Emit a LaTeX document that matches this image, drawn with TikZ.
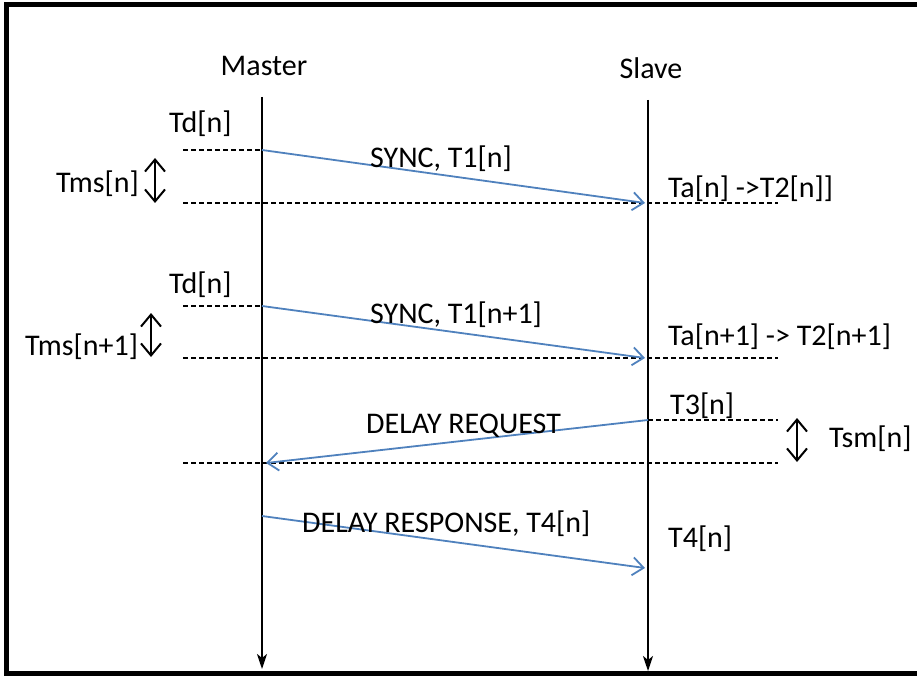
\documentclass[tikz,border=0pt]{standalone}
\usepackage{fontspec}
\setmainfont{Carlito}
\usetikzlibrary{arrows.meta}
\definecolor{msgblue}{RGB}{79,129,189}

\begin{document}
\begin{tikzpicture}[x=1pt, y=-1pt,
    lbl/.style={font=\fontsize{30}{35}\selectfont, inner sep=0pt, anchor=base west},
    life/.style={line width=2pt, -{Stealth[length=15pt,width=10pt,inset=4pt]}},
    msg/.style={line width=1.8pt, msgblue, -{Straight Barb[length=11pt,width=18pt,line width=1.8pt]}},
    tick/.style={line width=1.8pt, dash pattern=on 5pt off 3pt},
    gap/.style={line width=2pt,
                {Straight Barb[length=12pt,width=20pt,line width=2pt]}-{Straight Barb[length=12pt,width=20pt,line width=2pt]}}
]
    \useasboundingbox (0,0) rectangle (917,676);
    \clip (0,0) rectangle (917,676);
    \draw[line width=5pt] (6,4.5) rectangle (930,673.5);

    % lifelines
    \node[lbl, anchor=base] (master) at (264,76) {Master};
    \node[lbl, anchor=base] (slave)  at (651,79) {Slave};
    \coordinate (mtop) at (262,97);
    \coordinate (mbot) at (262,669);
    \coordinate (stop) at (648,100);
    \coordinate (sbot) at (648,671);
    \draw[life] (mtop) -- (mbot);
    \draw[life] (stop) -- (sbot);

    % time marks
    \coordinate (d1a) at (183,150);  \coordinate (m1) at (262,150);
    \coordinate (d2a) at (183,203);  \coordinate (s1) at (645,203);
    \coordinate (d2b) at (778,203);
    \coordinate (d3a) at (183,306);  \coordinate (m2) at (262,306);
    \coordinate (d4a) at (183,358);  \coordinate (s2) at (645,358);
    \coordinate (d4b) at (778,358);
    \coordinate (s3) at (648,420);   \coordinate (d5b) at (778,420);
    \coordinate (d6a) at (183,463);  \coordinate (m3) at (266,463);
    \coordinate (d6b) at (778,463);
    \coordinate (m4) at (262,516);   \coordinate (s4) at (645,568);

    \draw[tick] (d1a) -- (m1);
    \draw[tick] (d2a) -- (d2b);
    \draw[tick] (d3a) -- (m2);
    \draw[tick] (d4a) -- (d4b);
    \draw[tick] (s3) -- (d5b);
    \draw[tick] (d6a) -- (d6b);

    % messages
    \draw[msg] (m1) -- (s1);
    \draw[msg] (m2) -- (s2);
    \draw[msg] (s3) -- (m3);
    \draw[msg] (m4) -- (s4);

    \node[lbl] (sync1) at (370,168) {SYNC, T1[n]};
    \node[lbl] (sync2) at (370,323) {SYNC, T1[n+1]};
    \node[lbl] (dreq)  at (366,433) {DELAY REQUEST};
    \node[lbl] (dresp) at (302,532) {DELAY RESPONSE, T4[n]};

    % time labels
    \node[lbl] (td1)  at (169,133) {Td[n]};
    \node[lbl] (td2)  at (169,293) {Td[n]};
    \node[lbl] (tms1) at (56,193)  {Tms[n]};
    \node[lbl] (tms2) at (25,355)  {Tms[n+1]};
    \node[lbl] (ta1)  at (668,198) {Ta[n] ->T2[n]]};
    \node[lbl] (ta2)  at (668,345) {Ta[n+1] -> T2[n+1]};
    \node[lbl] (t3)   at (670,414) {T3[n]};
    \node[lbl] (tsm)  at (829,447) {Tsm[n]};
    \node[lbl] (t4)   at (668,547) {T4[n]};

    % intervals
    \coordinate (g1a) at (155,158); \coordinate (g1b) at (155,203);
    \coordinate (g2a) at (151,313); \coordinate (g2b) at (151,357);
    \coordinate (g3a) at (797,418); \coordinate (g3b) at (797,462);
    \draw[gap] (g1a) -- (g1b);
    \draw[gap] (g2a) -- (g2b);
    \draw[gap] (g3a) -- (g3b);
\end{tikzpicture}
\end{document}
